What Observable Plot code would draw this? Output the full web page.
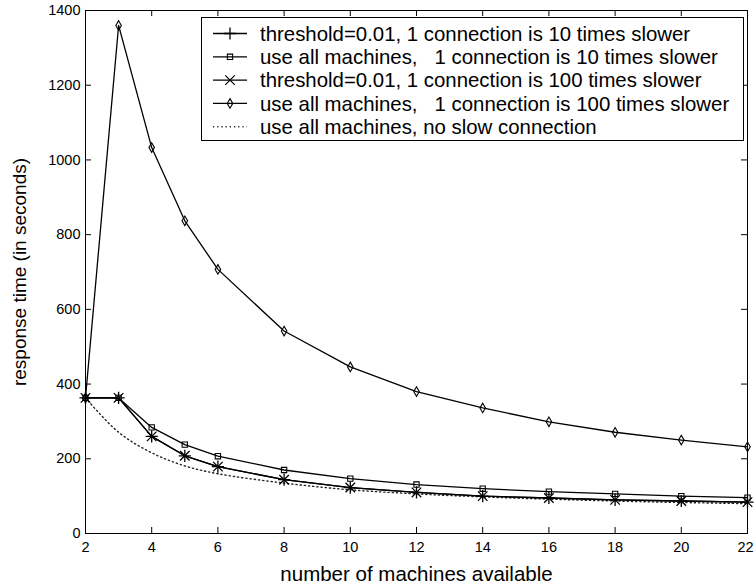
<!DOCTYPE html>
<html>
<head>
<meta charset="utf-8">
<script src="https://cdn.jsdelivr.net/npm/d3@7"></script>
<script src="https://cdn.jsdelivr.net/npm/@observablehq/plot@0.6"></script>
<style>
  html, body { margin: 0; padding: 0; background: #fff; }
  #wrap { position: relative; width: 754px; height: 586px; font-family: "Liberation Sans", Arial, sans-serif; }
</style>
</head>
<body>
<div id="wrap"></div>
<script>
// ---- data ----
const machines = [2, 3, 4, 5, 6, 8, 10, 12, 14, 16, 18, 20, 22];
const thr10   = [363, 363, 260, 208, 179, 144, 123, 110, 100, 95, 90, 87, 84];
const all10   = [363, 363, 284, 238, 207, 170, 147, 131, 120, 112, 106, 100, 96];
const thr100  = [363, 363, 260, 208, 179, 144, 123, 110, 100, 95, 90, 87, 84];
const all100  = [363, 1360, 1033, 837, 707, 542, 446, 380, 336, 299, 271, 250, 232];
const noSlow  = [363, 271, 216, 181, 160, 135, 117, 106, 98, 92, 87, 83, 80];

const seriesNames = [
  "threshold=0.01, 1 connection is 10 times slower",
  "use all machines,   1 connection is 10 times slower",
  "threshold=0.01, 1 connection is 100 times slower",
  "use all machines,   1 connection is 100 times slower",
  "use all machines, no slow connection"
];
const xTicks = [2, 4, 6, 8, 10, 12, 14, 16, 18, 20, 22];
const yTicks = [0, 200, 400, 600, 800, 1000, 1200, 1400];
const xLabel = "number of machines available";
const yLabel = "response time (in seconds)";

const rows = (vals) => machines.map((m, i) => ({x: m, y: vals[i]}));

const W = 754, H = 586;
const M = {top: 10, right: 7, bottom: 53, left: 85};
const plotW = W - M.left - M.right;
const plotH = H - M.top - M.bottom;
const FONT = "Liberation Sans, Arial, sans-serif";

const lineStyle = {x: "x", y: "y", stroke: "black", strokeWidth: 1.3};
const fmt = d => String(d);

const chart = Plot.plot({
  width: W, height: H,
  marginTop: M.top, marginRight: M.right, marginBottom: M.bottom, marginLeft: M.left,
  style: {fontFamily: FONT, background: "white", color: "black", overflow: "visible"},
  x: {domain: [2, 22]},
  y: {domain: [0, 1400]},
  marks: [
    Plot.axisX(xTicks.slice(0, -1), {tickSize: 0, tickPadding: 8, fontSize: 14.5, label: null, tickFormat: fmt}),
    Plot.axisX(xTicks.slice(-1), {tickSize: 0, tickPadding: 8, fontSize: 14.5, label: null, tickFormat: fmt, dx: -2}),
    Plot.axisY(yTicks, {tickSize: 0, tickPadding: 5, fontSize: 14.5, label: null, tickFormat: fmt}),
    // inward tick marks on all four sides
    Plot.tickX(xTicks, {x: d => d, insetTop: plotH - 6, stroke: "black"}),
    Plot.tickX(xTicks, {x: d => d, insetBottom: plotH - 6, stroke: "black"}),
    Plot.tickY(yTicks, {y: d => d, insetRight: plotW - 6, stroke: "black"}),
    Plot.tickY(yTicks, {y: d => d, insetLeft: plotW - 6, stroke: "black"}),
    // series
    Plot.line(rows(noSlow), {x: "x", y: "y", stroke: "#222", strokeWidth: 1.4, strokeDasharray: "1.2 3", curve: "catmull-rom"}),
    Plot.line(rows(all100), lineStyle),
    Plot.dot(rows(all100), {x: "x", y: "y", symbol: "diamond", r: 2.9, fill: "none", stroke: "black", strokeWidth: 1.1}),
    Plot.line(rows(all10), lineStyle),
    Plot.dot(rows(all10), {x: "x", y: "y", symbol: "square", r: 3, fill: "none", stroke: "black", strokeWidth: 1.1}),
    Plot.line(rows(thr100), lineStyle),
    Plot.dot(rows(thr100), {x: "x", y: "y", symbol: "times", r: 4.4, stroke: "black", strokeWidth: 1.3}),
    Plot.line(rows(thr10), lineStyle),
    Plot.dot(rows(thr10), {x: "x", y: "y", symbol: "plus", r: 4, stroke: "black", strokeWidth: 1.3}),
    Plot.frame({stroke: "black", strokeWidth: 1}),
    // axis titles
    Plot.text([xLabel], {text: d => d, frameAnchor: "bottom", textAnchor: "middle", dy: 47, fontSize: 20.5, fill: "black"}),
    Plot.text([yLabel], {text: d => d, frameAnchor: "left", textAnchor: "middle", rotate: -90, dx: -66, fontSize: 19, fill: "black"})
  ]
});

const wrap = document.getElementById("wrap");
wrap.appendChild(chart);

// ---- legend (drawn as an overlay SVG) ----
const symbols = [d3.symbolPlus, d3.symbolSquare, d3.symbolTimes, d3.symbolDiamond, null];
const symSizes = [Math.PI * 16, Math.PI * 9, Math.PI * 4.4 * 4.4, Math.PI * 2.9 * 2.9, 0];
const lg = d3.create("svg")
  .attr("width", W).attr("height", H)
  .style("position", "absolute").style("left", "0px").style("top", "0px")
  .style("pointer-events", "none");
const box = {x: 201.5, y: 17.5, w: 542, h: 123};
lg.append("rect").attr("x", box.x).attr("y", box.y).attr("width", box.w).attr("height", box.h)
  .attr("fill", "white").attr("stroke", "black").attr("stroke-width", 1);
const rowY0 = 33.5, rowDy = 23.3;
seriesNames.forEach((name, i) => {
  const y = rowY0 + i * rowDy;
  const g = lg.append("g");
  g.append("line").attr("x1", 213).attr("x2", 247).attr("y1", y).attr("y2", y)
    .attr("stroke", i === 4 ? "#222" : "black").attr("stroke-width", i === 4 ? 1.4 : 1.3)
    .attr("stroke-dasharray", i === 4 ? "1.2 3" : null);
  if (symbols[i]) {
    const stroked = symbols[i] === d3.symbolPlus || symbols[i] === d3.symbolTimes;
    g.append("path").attr("transform", `translate(230,${y})`)
      .attr("d", d3.symbol(symbols[i], symSizes[i])())
      .attr("fill", "none").attr("stroke", "black").attr("stroke-width", stroked ? 1.3 : 1.1);
  }
  g.append("text").attr("x", 260).attr("y", y).attr("dy", "0.35em")
    .attr("font-family", FONT).attr("font-size", 20.4).attr("fill", "black")
    .attr("xml:space", "preserve").style("white-space", "pre")
    .text(name);
});
wrap.appendChild(lg.node());
</script>
</body>
</html>
